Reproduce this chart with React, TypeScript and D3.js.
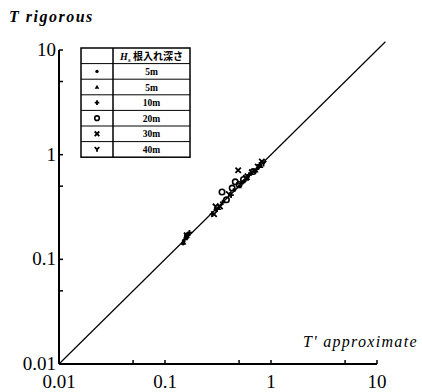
import React from "react";
import * as d3 from "d3";

const tickValues = [0.05, 0.1, 0.5, 1, 5, 10];
const labelValues = [0.01, 0.1, 1, 10];
const labelText = ["0.01", "0.1", "1", "10"];

const legendSymbols = ["dot", "triangle", "plus", "circle", "cross", "y"];
const legendLabels = ["5m", "5m", "10m", "20m", "30m", "40m"];

// [T approximate, T rigorous]
const dot5: [number, number][] = [[0.15, 0.15], [0.16, 0.16], [0.3, 0.3], [0.45, 0.46], [0.55, 0.55], [0.65, 0.66], [0.7, 0.7], [0.75, 0.74], [0.148, 0.142]];
const tri5: [number, number][] = [[0.15, 0.145], [0.155, 0.16], [0.32, 0.31], [0.5, 0.5], [0.6, 0.6], [0.72, 0.71], [0.8, 0.78], [0.165, 0.175]];
const plus10: [number, number][] = [[0.16, 0.17], [0.17, 0.18], [0.28, 0.27], [0.35, 0.35], [0.52, 0.53], [0.62, 0.64], [0.78, 0.8], [0.42, 0.41]];
const circ20: [number, number][] = [[0.345, 0.44], [0.46, 0.55], [0.5, 0.52], [0.38, 0.37], [0.55, 0.58], [0.68, 0.69], [0.43, 0.48]];
const cross30: [number, number][] = [[0.29, 0.27], [0.49, 0.71], [0.58, 0.6], [0.82, 0.86], [0.16, 0.17], [0.33, 0.32]];
const y40: [number, number][] = [[0.3, 0.32], [0.4, 0.42], [0.6, 0.62], [0.75, 0.77], [0.85, 0.82], [0.31, 0.3], [0.66, 0.68]];

const seriesData = [dot5, tri5, plus10, circ20, cross30, y40];

const x = d3.scaleLog().domain([0.01, 10]).range([59, 377]);
const y = d3.scaleLog().domain([0.01, 10]).range([364, 50]);

function Marker({ kind, cx, cy, s = 1 }: { kind: string; cx: number; cy: number; s?: number }) {
  const r = 2.7 * s;
  switch (kind) {
    case "dot":
      return <circle cx={cx} cy={cy} r={2 * s} fill="#000" />;
    case "triangle":
      return <path d={`M${cx},${cy - r} L${cx + r},${cy + r * 0.8} L${cx - r},${cy + r * 0.8} Z`} fill="#000" />;
    case "plus":
      return <path d={`M${cx - r},${cy} H${cx + r} M${cx},${cy - r} V${cy + r}`} stroke="#000" strokeWidth={1.8} />;
    case "circle":
      return <circle cx={cx} cy={cy} r={r} fill="none" stroke="#000" strokeWidth={1.6} />;
    case "cross":
      return <path d={`M${cx - r},${cy - r} L${cx + r},${cy + r} M${cx - r},${cy + r} L${cx + r},${cy - r}`} stroke="#000" strokeWidth={1.8} />;
    case "y":
      return <path d={`M${cx - r},${cy - r} L${cx},${cy} L${cx + r},${cy - r} M${cx},${cy} V${cy + r}`} stroke="#000" strokeWidth={1.8} fill="none" />;
  }
  return null;
}

export default function App() {
  const serif = "'Liberation Serif', 'DejaVu Serif', serif";
  const legX = 81, legY = 48, legW = 109, rowH = 15.6, col = 113;
  return (
    <svg width={422} height={392} style={{ position: "absolute", left: 0, top: 0, background: "#fff" }} fontFamily={serif}>
      <rect width={422} height={392} fill="#fff" />
      {/* diagonal */}
      <line x1={x(0.01)} y1={y(0.01)} x2={x(12)} y2={y(12)} stroke="#000" strokeWidth={1.2} />
      {/* axes */}
      <line x1={x(0.01)} y1={y(0.01)} x2={x(10)} y2={y(0.01)} stroke="#000" strokeWidth={2} />
      <line x1={x(0.01)} y1={y(0.01)} x2={x(0.01)} y2={y(10)} stroke="#000" strokeWidth={2} />
      {tickValues.map((t) => (
        <line key={"xt" + t} x1={x(t)} x2={x(t)} y1={y(0.01)} y2={y(0.01) - 4} stroke="#000" strokeWidth={1.5} />
      ))}
      {tickValues.map((t) => (
        <line key={"yt" + t} x1={x(0.01)} x2={x(0.01) + 4} y1={y(t)} y2={y(t)} stroke="#000" strokeWidth={1.5} />
      ))}
      {labelValues.map((v, i) => (
        <text key={"xl" + v} x={x(v)} y={388} fontSize={19} textAnchor="middle">{labelText[i]}</text>
      ))}
      {labelValues.map((v, i) => (
        <text key={"yl" + v} x={56} y={y(v) + 6} fontSize={19} textAnchor="end">{labelText[i]}</text>
      ))}
      <text x={9} y={22} fontSize={16} fontStyle="italic" fontWeight="bold" letterSpacing={1.5}>T rigorous</text>
      <text x={303} y={347} fontSize={16} fontStyle="italic" letterSpacing={1.3}>T' approximate</text>
      {/* data */}
      {seriesData.map((data, si) =>
        data.map((d, i) => <Marker key={si + "-" + i} kind={legendSymbols[si]} cx={x(d[0])} cy={y(d[1])} />)
      )}
      {/* legend table */}
      <rect x={legX} y={legY} width={legW} height={rowH * 7} fill="#fff" stroke="#000" strokeWidth={1.5} />
      <line x1={col} x2={col} y1={legY} y2={legY + rowH * 7} stroke="#000" strokeWidth={1.5} />
      {d3.range(1, 7).map((i) => (
        <line key={"row" + i} x1={legX} x2={legX + legW} y1={legY + rowH * i} y2={legY + rowH * i} stroke="#000" strokeWidth={1} />
      ))}
      <text x={(col + legX + legW) / 2} y={legY + rowH * 0.5 + 4} fontSize={10} fontWeight="bold" textAnchor="middle">
        <tspan fontStyle="italic">H</tspan>
        <tspan fontStyle="italic" fontSize={7} dy={2}>s</tspan>
        <tspan dy={-2} fontFamily="'Noto Sans CJK JP', sans-serif"> 根入れ深さ</tspan>
      </text>
      {legendSymbols.map((k, i) => (
        <g key={"leg" + k + i}>
          <Marker kind={k} cx={(legX + col) / 2} cy={legY + rowH * (i + 1.5)} s={0.85} />
          <text x={(col + legX + legW) / 2} y={legY + rowH * (i + 1.5) + 3.5} fontSize={9.5} fontWeight="bold" textAnchor="middle">
            {legendLabels[i]}
          </text>
        </g>
      ))}
    </svg>
  );
}
